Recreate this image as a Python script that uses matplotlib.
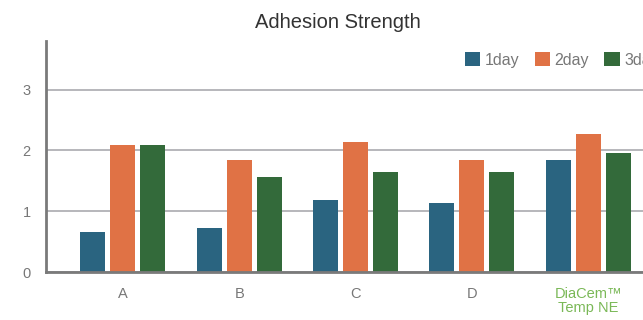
import matplotlib.pyplot as plt
import numpy as np

categories = ['A', 'B', 'C', 'D', 'DiaCem\u2122\nTemp NE']
series_names = ['1day', '2day', '3day']
day1 = [0.66, 0.72, 1.19, 1.14, 1.85]
day2 = [2.09, 1.85, 2.14, 1.85, 2.27]
day3 = [2.09, 1.57, 1.65, 1.65, 1.95]
colors = ['#2a6480', '#e07245', '#336a3a']

plt.rcParams['font.family'] = ['Liberation Sans', 'DejaVu Sans']

fig = plt.figure(figsize=(6.43, 3.2), dpi=100)
ax = fig.add_axes([46 / 643, 48 / 320, 619 / 643, 231 / 320])

x = np.arange(len(categories))
pitch = 0.258
width = 0.215
for i, (vals, name) in enumerate(zip([day1, day2, day3], series_names)):
    ax.bar(x + (i - 1) * pitch, vals, width, color=colors[i], label=name, zorder=3)

ax.set_xlim(-0.66, 4.66)
ax.set_ylim(0, 3.8)
ax.set_yticks([0, 1, 2, 3])
ax.grid(axis='y', color='#b7b7bb', linewidth=1.4, zorder=0)
ax.set_xticks(x)
ax.set_xticklabels(categories, fontsize=10.5, color='#777777', linespacing=1.0)
ax.get_xticklabels()[-1].set_color('#7ab857')
ax.tick_params(axis='x', length=0, pad=11)
ax.tick_params(axis='y', length=0, pad=11, labelsize=10.5, labelcolor='#777777')
for s in ['top', 'right']:
    ax.spines[s].set_visible(False)
for s in ['left', 'bottom']:
    ax.spines[s].set_color('#7a7a7a')
    ax.spines[s].set_linewidth(2)
    ax.spines[s].set_zorder(4)

fig.text(338 / 643, 1 - 22 / 320, 'Adhesion Strength', ha='center', va='center',
         fontsize=14.5, color='#333333')

# legend runs off the right edge, same as the reference
fig.legend(loc='upper left', bbox_to_anchor=(465 / 643, 1 - 52 / 320), ncol=3,
           frameon=False, fontsize=11.5, handlelength=0.95, handleheight=1.0,
           handletextpad=0.3, columnspacing=0.95, borderpad=0, borderaxespad=0,
           labelcolor='#777777')

fig.savefig('out.png', dpi=100)
